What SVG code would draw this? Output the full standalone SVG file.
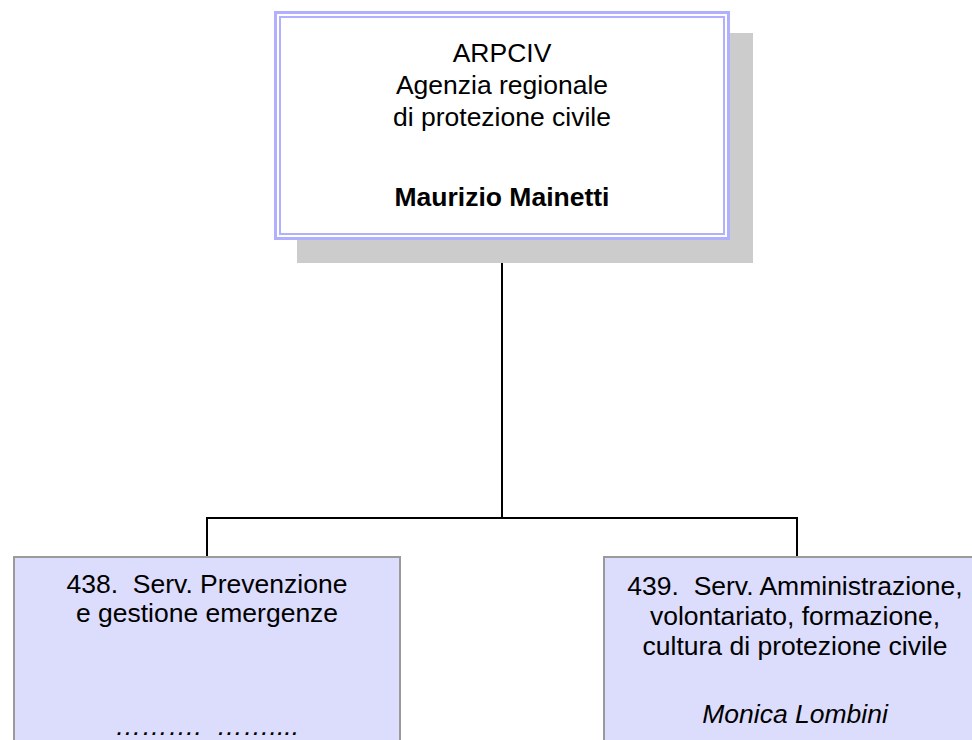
<svg xmlns="http://www.w3.org/2000/svg" width="972" height="740" viewBox="0 0 972 740">
<style>
text{font-family:"Liberation Sans",Arial,sans-serif;font-size:26.5px;fill:#000;text-anchor:middle;white-space:pre}
.b{font-weight:bold}
.i{font-style:italic}
.conn{stroke:#000;stroke-width:2;fill:none}
.sub{fill:#dcdcfc;stroke:#9a9a9a;stroke-width:2}
</style>
<rect width="972" height="740" fill="#fff"/>
<g id="connectors">
<polyline class="conn" points="502,240 502,518"/>
<polyline class="conn" points="207,556 207,518 797,518 797,556"/>
</g>
<g id="arpciv">
<rect x="297" y="33" width="456" height="230" fill="#cccccc"/>
<rect x="275.5" y="12.5" width="453" height="226" fill="#fff" stroke="#b0b0ff" stroke-width="3"/>
<rect x="280" y="17" width="444" height="217" fill="none" stroke="#b0b0ff" stroke-width="2"/>
<text x="502" y="62">ARPCIV</text>
<text x="502" y="94">Agenzia regionale</text>
<text x="502" y="126">di protezione civile</text>
<text class="b" x="502" y="206">Maurizio Mainetti</text>
</g>
<g id="s438">
<rect class="sub" x="14" y="557" width="386" height="200"/>
<text x="207" y="593" xml:space="preserve">438.&#160; Serv. Prevenzione</text>
<text x="207" y="622">e gestione emergenze</text>
<text class="i" x="207" y="735" xml:space="preserve">……….&#160; ……....</text>
</g>
<g id="s439">
<rect class="sub" x="604" y="557" width="386" height="200"/>
<text x="795" y="595" xml:space="preserve">439.&#160; Serv. Amministrazione,</text>
<text x="795" y="625">volontariato, formazione,</text>
<text x="795" y="655">cultura di protezione civile</text>
<text class="i" x="795" y="723">Monica Lombini</text>
</g>
</svg>
